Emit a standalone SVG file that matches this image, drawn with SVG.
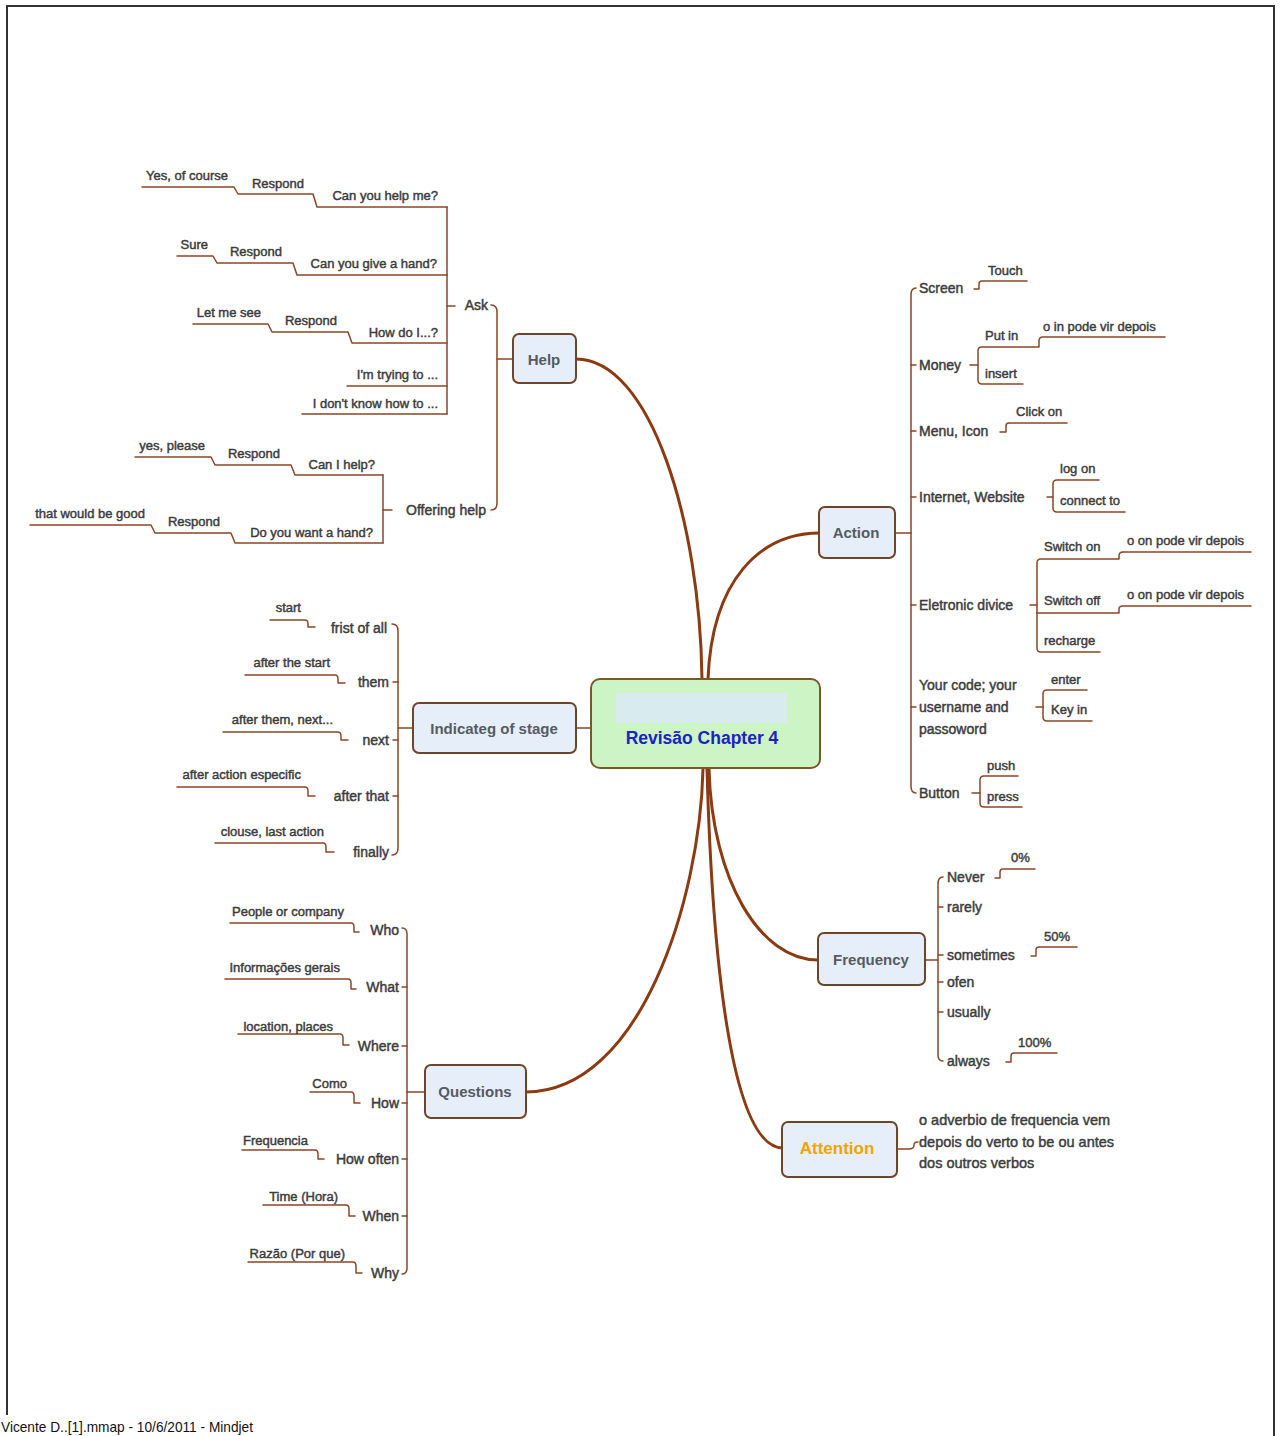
<svg xmlns="http://www.w3.org/2000/svg" width="1280" height="1436" viewBox="0 0 1280 1436">
<defs>
<style>
text{font-family:"Liberation Sans",Arial,sans-serif;fill:#3c3c3c;stroke:#3c3c3c;stroke-width:0.45}
.t3{font-size:13px}
.t2{font-size:14px}
.e{text-anchor:end}
.node{fill:#e6eef9;stroke:#6e4528;stroke-width:2}
.nt{font-size:15px;font-weight:bold;fill:#555b63;stroke:none;text-anchor:middle}
.ln{fill:none;stroke:#8a4626;stroke-width:1.5;stroke-linejoin:round;stroke-linecap:round}
.main{fill:none;stroke:#8b3a12;stroke-width:3;stroke-linecap:round}
</style>
</defs>
<rect width="1280" height="1436" fill="#ffffff"/>
<path d="M7,1415 V6 H1274 V1436" fill="none" stroke="#333" stroke-width="2"/>

<g id="connectors">
<path class="main" d="M576,359 C650,359 700,520 702,679"/>
<path class="main" d="M820,533 C760,533 712,580 708,679"/>
<path class="main" d="M526,1092 C640,1092 700,900 703,769"/>
<path class="main" d="M818,960 C760,960 712,880 709,769"/>
<path class="main" d="M783,1148 C730,1148 712,950 707,769"/>
<path class="ln" d="M576,728 H591"/>
<!-- Help -->
<path class="ln" d="M497,359 H513"/>
<path class="ln" d="M491,305 Q497,305 497,312 V503 Q497,510 491,510"/>
<path class="ln" d="M447,306 H455"/>
<path class="ln" d="M447,207 V414"/>
<path class="ln" d="M142,187 H234 L238,194 H313 L317,207 H447"/>
<path class="ln" d="M177,256 H213 L217,263 H293 L297,275 H447"/>
<path class="ln" d="M193,324 H268 L272,332 H348 L352,343 H447"/>
<path class="ln" d="M347,386 H447"/>
<path class="ln" d="M302,414 H447"/>
<path class="ln" d="M383,475 V543"/>
<path class="ln" d="M383,510 H392"/>
<path class="ln" d="M135,457 H211 L215,465 H291 L295,475 H383"/>
<path class="ln" d="M30,525 H151 L155,533 H231 L235,543 H383"/>
<!-- Indicateg -->
<path class="ln" d="M398,728 H413"/>
<path class="ln" d="M392,624 Q398,624 398,631 V848 Q398,855 392,855"/>
<path class="ln" d="M393,682 H398 M393,740 H398 M393,796 H398"/>
<path class="ln" d="M270,620 H305 Q308,620 308,624 V627 H315"/>
<path class="ln" d="M245,675 H335 Q338,675 338,679 V683 H345"/>
<path class="ln" d="M223,732 H338 Q341,732 341,736 V740 H348"/>
<path class="ln" d="M177,787 H305 Q308,787 308,791 V796 H315"/>
<path class="ln" d="M215,843 H323 Q326,843 326,847 V852 H334"/>
<!-- Questions -->
<path class="ln" d="M407,1092 H425"/>
<path class="ln" d="M402,928 Q407,928 407,934 V1268 Q407,1274 402,1274"/>
<path class="ln" d="M402,987 H407 M402,1046 H407 M402,1103 H407 M402,1159 H407 M402,1216 H407"/>
<path class="ln" d="M230,923 H351 Q354,923 354,927 V932 H359"/>
<path class="ln" d="M225,979 H348 Q351,979 351,983 V989 H356"/>
<path class="ln" d="M238,1034 H340 Q343,1034 343,1038 V1045 H349"/>
<path class="ln" d="M310,1092 H351 Q354,1092 354,1096 V1103 H360"/>
<path class="ln" d="M242,1150 H315 Q318,1150 318,1154 V1159 H324"/>
<path class="ln" d="M263,1205 H346 Q349,1205 349,1209 V1216 H355"/>
<path class="ln" d="M248,1262 H353 Q356,1262 356,1266 V1273 H362"/>
<!-- Action -->
<path class="ln" d="M895,533 H911"/>
<path class="ln" d="M916,288 Q911,288 911,295 V786 Q911,793 916,793"/>
<path class="ln" d="M911,365 H916 M911,431 H916 M911,497 H916 M911,605 H916 M911,707 H916"/>
<path class="ln" d="M974,289 H979 V284 Q979,281 982,281 H1027"/>
<path class="ln" d="M970,365 H978"/>
<path class="ln" d="M1165,337 H1043 Q1039,337 1039,341 V347 H982 Q978,347 978,351 V380 Q978,384 982,384 H1023"/>
<path class="ln" d="M1000,432 H1006 V426 Q1006,423 1009,423 H1067"/>
<path class="ln" d="M1047,497 H1053"/>
<path class="ln" d="M1099,480 H1057 Q1053,480 1053,484 V508 Q1053,512 1057,512 H1125"/>
<path class="ln" d="M1030,605 H1037"/>
<path class="ln" d="M1251,552 H1123 Q1119,552 1119,556 V559 H1041 Q1037,559 1037,563 V648 Q1037,652 1041,652 H1100"/>
<path class="ln" d="M1037,613 H1119 V609 Q1119,606 1123,606 H1251"/>
<path class="ln" d="M1036,707 H1043"/>
<path class="ln" d="M1087,690 H1047 Q1043,690 1043,694 V717 Q1043,721 1047,721 H1092"/>
<path class="ln" d="M972,793 H980"/>
<path class="ln" d="M1018,776 H984 Q980,776 980,780 V803 Q980,807 984,807 H1022"/>
<!-- Frequency -->
<path class="ln" d="M925,960 H938"/>
<path class="ln" d="M943,877 Q938,877 938,884 V1055 Q938,1061 943,1061"/>
<path class="ln" d="M938,907 H943 M938,955 H943 M938,982 H943 M938,1012 H943"/>
<path class="ln" d="M995,878 H1000 V872 Q1000,869 1003,869 H1035"/>
<path class="ln" d="M1031,956 H1036 V950 Q1036,947 1039,947 H1077"/>
<path class="ln" d="M1006,1062 H1011 V1056 Q1011,1053 1014,1053 H1057"/>
<!-- Attention -->
<path class="ln" d="M897,1149 H909 Q914,1149 914,1145 Q914,1142 918,1142"/>
</g>

<g id="center">
<rect x="591" y="679" width="229" height="89" rx="9" fill="#ccf4c4" stroke="#7a5a24" stroke-width="2"/>
<rect x="616" y="693" width="171" height="30" fill="#d8ebef"/>
<text x="702" y="744" style="font-size:17.5px;font-weight:bold;fill:#1c22c4;stroke:none;text-anchor:middle">Revisão Chapter 4</text>
</g>

<g id="help">
<rect class="node" x="513" y="334" width="63" height="49" rx="6"/>
<text class="nt" x="544" y="365">Help</text>
<text class="t2 e" x="488" y="310">Ask</text>
<text class="t2 e" x="486" y="515">Offering help</text>
<text class="t3 e" x="228" y="180">Yes, of course</text>
<text class="t3 e" x="304" y="188">Respond</text>
<text class="t3 e" x="438" y="200">Can you help me?</text>
<text class="t3 e" x="208" y="249">Sure</text>
<text class="t3 e" x="282" y="256">Respond</text>
<text class="t3 e" x="437" y="268">Can you give a hand?</text>
<text class="t3 e" x="261" y="317">Let me see</text>
<text class="t3 e" x="337" y="325">Respond</text>
<text class="t3 e" x="438" y="337">How do I...?</text>
<text class="t3 e" x="438" y="379">I'm trying to ...</text>
<text class="t3 e" x="438" y="408">I don't know how to ...</text>
<text class="t3 e" x="205" y="450">yes, please</text>
<text class="t3 e" x="280" y="458">Respond</text>
<text class="t3 e" x="375" y="469">Can I help?</text>
<text class="t3 e" x="145" y="518">that would be good</text>
<text class="t3 e" x="220" y="526">Respond</text>
<text class="t3 e" x="373" y="537">Do you want a hand?</text>
</g>

<g id="stage">
<rect class="node" x="413" y="703" width="163" height="50" rx="6"/>
<text class="nt" x="494" y="734">Indicateg of stage</text>
<text class="t2 e" x="387" y="633">frist of all</text>
<text class="t2 e" x="389" y="687">them</text>
<text class="t2 e" x="389" y="745">next</text>
<text class="t2 e" x="389" y="801">after that</text>
<text class="t2 e" x="389" y="857">finally</text>
<text class="t3 e" x="301" y="612">start</text>
<text class="t3 e" x="330" y="667">after the start</text>
<text class="t3 e" x="333" y="724">after them, next...</text>
<text class="t3 e" x="301" y="779">after action especific</text>
<text class="t3 e" x="324" y="836">clouse, last action</text>
</g>

<g id="questions">
<rect class="node" x="425" y="1065" width="101" height="53" rx="6"/>
<text class="nt" x="475" y="1097">Questions</text>
<text class="t2 e" x="399" y="935">Who</text>
<text class="t2 e" x="399" y="992">What</text>
<text class="t2 e" x="399" y="1051">Where</text>
<text class="t2 e" x="399" y="1108">How</text>
<text class="t2 e" x="399" y="1164">How often</text>
<text class="t2 e" x="399" y="1221">When</text>
<text class="t2 e" x="399" y="1278">Why</text>
<text class="t3 e" x="344" y="916">People or company</text>
<text class="t3 e" x="340" y="972">Informações gerais</text>
<text class="t3 e" x="333" y="1031">location, places</text>
<text class="t3 e" x="347" y="1088">Como</text>
<text class="t3 e" x="308" y="1145">Frequencia</text>
<text class="t3 e" x="338" y="1201">Time (Hora)</text>
<text class="t3 e" x="345" y="1258">Razão (Por que)</text>
</g>

<g id="action">
<rect class="node" x="819" y="507" width="76" height="51" rx="6"/>
<text class="nt" x="856" y="538">Action</text>
<text class="t2" x="919" y="293">Screen</text>
<text class="t2" x="919" y="370">Money</text>
<text class="t2" x="919" y="436">Menu, Icon</text>
<text class="t2" x="919" y="502">Internet, Website</text>
<text class="t2" x="919" y="610">Eletronic divice</text>
<text class="t2" x="919" y="690">Your code; your</text>
<text class="t2" x="919" y="712">username and</text>
<text class="t2" x="919" y="734">passoword</text>
<text class="t2" x="919" y="798">Button</text>
<text class="t3" x="988" y="275">Touch</text>
<text class="t3" x="985" y="340">Put in</text>
<text class="t3" x="1043" y="331">o in pode vir depois</text>
<text class="t3" x="985" y="378">insert</text>
<text class="t3" x="1016" y="416">Click on</text>
<text class="t3" x="1060" y="473">log on</text>
<text class="t3" x="1060" y="505">connect to</text>
<text class="t3" x="1044" y="551">Switch on</text>
<text class="t3" x="1127" y="545">o on pode vir depois</text>
<text class="t3" x="1044" y="605">Switch off</text>
<text class="t3" x="1127" y="599">o on pode vir depois</text>
<text class="t3" x="1044" y="645">recharge</text>
<text class="t3" x="1051" y="684">enter</text>
<text class="t3" x="1051" y="714">Key in</text>
<text class="t3" x="987" y="770">push</text>
<text class="t3" x="987" y="801">press</text>
</g>

<g id="frequency">
<rect class="node" x="818" y="933" width="107" height="52" rx="6"/>
<text class="nt" x="871" y="965">Frequency</text>
<text class="t2" x="947" y="882">Never</text>
<text class="t2" x="947" y="912">rarely</text>
<text class="t2" x="947" y="960">sometimes</text>
<text class="t2" x="947" y="987">ofen</text>
<text class="t2" x="947" y="1017">usually</text>
<text class="t2" x="947" y="1066">always</text>
<text class="t3" x="1011" y="862">0%</text>
<text class="t3" x="1044" y="941">50%</text>
<text class="t3" x="1018" y="1047">100%</text>
</g>

<g id="attention">
<rect class="node" x="782" y="1122" width="115" height="55" rx="6"/>
<text class="nt" x="837" y="1154" style="font-size:17px;fill:#f2a400">Attention</text>
<text x="919" y="1125" style="font-size:14.5px">o adverbio de frequencia vem</text>
<text x="919" y="1147" style="font-size:14.5px">depois do verto to be ou antes</text>
<text x="919" y="1168" style="font-size:14.5px">dos outros verbos</text>
</g>

<text x="1" y="1432" textLength="252" lengthAdjust="spacingAndGlyphs" style="font-size:15px;fill:#111;stroke:none">Vicente D..[1].mmap - 10/6/2011 - Mindjet</text>
</svg>
